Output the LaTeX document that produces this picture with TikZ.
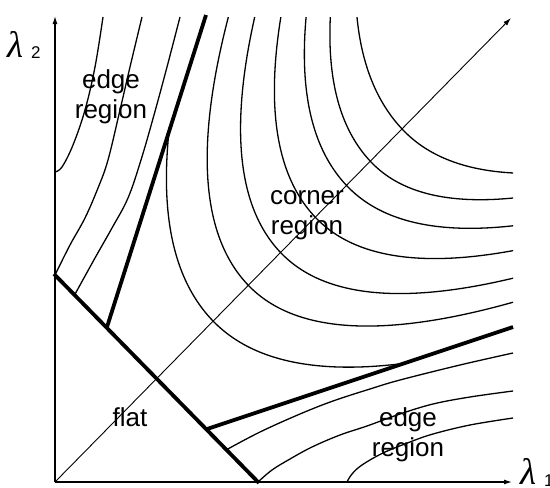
\documentclass[tikz,border=0pt]{standalone}
\usepackage{fontspec}
\setmainfont{Liberation Sans}
\newfontfamily\lamfont{Liberation Serif}
\usetikzlibrary{arrows.meta}
% parabola-like contour in diagonal frame: S = S0 + K t^2, D = 100 t
\newcommand{\pcurve}[5]{%
  \draw[contour] plot[domain=#4:#5,samples=90,smooth,variable=\t]
   ({55+(#1+((\t)>0?#2:#3)*(\t)*(\t)-100*(\t))/2},
    {482-(#1+((\t)>0?#2:#3)*(\t)*(\t)+100*(\t))/2});}
\begin{document}
\begin{tikzpicture}[x=1pt,y=-1pt,
  contour/.style={line width=1.3pt,line join=round},
  bound/.style={line width=3.8pt},
  axisline/.style={line width=1.2pt,-{Latex[length=8pt,width=5pt]}},
  diagline/.style={line width=0.9pt,-{Latex[length=8pt,width=5pt]}},
  lbl/.style={font=\fontsize{26}{30}\selectfont,align=center,inner sep=0pt},
  lam/.style={font=\lamfont\itshape\fontsize{37}{37}\selectfont,inner sep=0pt,anchor=base west},
  sub/.style={font=\fontsize{17}{17}\selectfont,inner sep=0pt,anchor=base west}]
\useasboundingbox (0,0) rectangle (550,488);
% coordinates
\coordinate (O) at (55,482);
\coordinate (Ytip) at (55,16);
\coordinate (Xtip) at (512,482);
\coordinate (Dtip) at (511,18);
\coordinate (F1) at (54,274);
\coordinate (F2) at (259,483);
\coordinate (U1) at (107,327);
\coordinate (U2) at (206,15);
\coordinate (L1) at (207,429);
\coordinate (L2) at (513,327);
% corner region contours
\begin{scope}
\clip (55,17) rectangle (513,482);
\pcurve{319}{26}{28}{-2.30}{2.406}
\pcurve{390}{29.2}{32}{-3.3}{3.3}
\pcurve{455}{29.8}{32}{-3.3}{3.3}
\pcurve{525}{29}{32}{-3.3}{3.3}
\pcurve{588}{28}{31}{-3.3}{3.3}
\pcurve{636}{29}{35}{-3.3}{3.3}
\pcurve{700}{25.2}{30.2}{-3.3}{3.3}
\end{scope}
% upper-left edge region contours
\draw[contour] plot[smooth,tension=0.6] coordinates {(55,172) (62,167) (73,145) (85,110) (95,67) (103,17)};
\draw[contour] plot[smooth,tension=0.6] coordinates {(55,275) (70,245) (85,218) (98,188) (108,160) (120,110) (130,67) (142,17)};
\draw[contour] plot[smooth,tension=0.6] coordinates {(74,296) (95,258) (112,228) (128,198) (141,160) (154,115) (167,67) (180,17)};
% lower-right edge region contours
\draw[contour] plot[smooth,tension=0.6] coordinates {(226,450) (260,432) (300,414) (333,401) (370,389) (400,380) (460,365) (513,353)};
\draw[contour] plot[smooth,tension=0.6] coordinates {(258,482) (272,470) (290,459) (312,447) (340,435) (367,426) (400,414) (433,404) (470,397) (513,391)};
\draw[contour] plot[smooth,tension=0.6] coordinates {(347,482) (352,474) (362,465) (383,453) (410,442) (433,434) (470,425) (513,418)};
% region boundaries
\draw[bound] (F1) -- (F2);
\draw[bound] (U1) -- (U2);
\draw[bound] (L1) -- (L2);
% axes
\draw[axisline] (O) -- (Ytip);
\draw[axisline] (O) -- (Xtip);
\draw[diagline] (O) -- (Dtip);
% labels
\node[lam] (l2) at (7,57) {λ};
\node[sub] (s2) at (31,58) {2};
\node[lam] (l1) at (520,484) {λ};
\node[sub] (s1) at (544,486) {1};
\node[lbl] (edgeA) at (111,97) {edge\\region};
\node[lbl] (corner) at (307,215) {corner\\region};
\node[lbl,anchor=base] (flat) at (130,426) {flat};
\node[lbl] (edgeB) at (408,435) {edge\\region};
\end{tikzpicture}
\end{document}
